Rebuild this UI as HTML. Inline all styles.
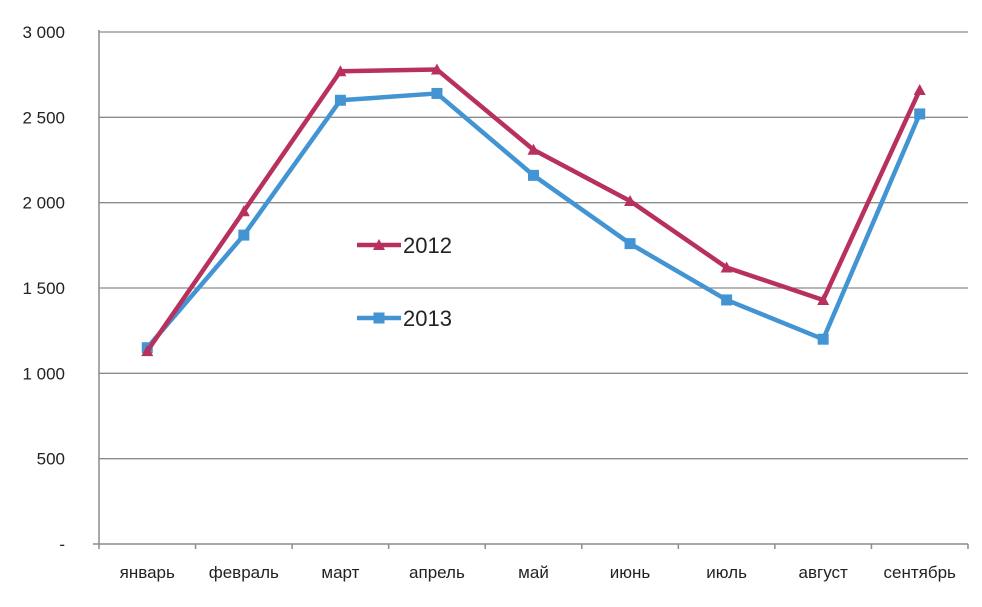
<!DOCTYPE html>
<html><head><meta charset="utf-8"><style>
body{margin:0;background:#fff;}
svg{display:block;font-family:"Liberation Sans",Arial,sans-serif;}
</style></head><body>
<svg id="chart" width="982" height="607" viewBox="0 0 982 607"></svg>
<script>
const categories=["январь","февраль","март","апрель","май","июнь","июль","август","сентябрь"];
const series2012=[1130,1950,2770,2780,2310,2010,1620,1430,2660];
const series2013=[1150,1810,2600,2640,2160,1760,1430,1200,2520];
const yTicks=[0,500,1000,1500,2000,2500,3000];
const yTickLabels=["-","500","1 000","1 500","2 000","2 500","3 000"];
const NS="http://www.w3.org/2000/svg";
const svg=document.getElementById('chart');
const X0=99,X1=968,Y0=544,Y1=32,YMAX=3000;
const band=(X1-X0)/categories.length;
const xPos=i=>X0+band*(i+0.5);
const yPos=v=>Y0-(v/YMAX)*(Y0-Y1);
function mk(tag,attrs,parent){const e=document.createElementNS(NS,tag);for(const k in attrs)e.setAttribute(k,attrs[k]);(parent||svg).appendChild(e);return e;}
const grid=mk('g',{});


yTicks.forEach((t,i)=>{
  if(t>0){const l=mk('line',{x1:X0,x2:X1,y1:yPos(t),y2:yPos(t),stroke:'#8c8c8c','stroke-width':1.3},grid);
  
  }
  const tx=mk('text',{x:65,y:yPos(t)+6,'text-anchor':'end','font-size':17,fill:'#222'});
  
  
  tx.textContent=yTickLabels[i];
});
const ax=mk('path',{d:`M${X0} ${Y1-2}V${Y0}M${X0-6} ${Y0}H${X1}`,stroke:'#8c8c8c','stroke-width':1.5,fill:'none'});


for(let i=0;i<=categories.length;i++){
  const t=mk('line',{x1:X0+band*i,x2:X0+band*i,y1:Y0,y2:Y0+5,stroke:'#8c8c8c','stroke-width':1.5});
  
  
}
categories.forEach((c,i)=>{
  const t=mk('text',{x:xPos(i),y:578,'text-anchor':'middle','font-size':17,fill:'#222'});
  
  
  t.textContent=c;
});
function tri(g,x,y,col){const p=mk('polygon',{points:`${x},${y-6} ${x-6},${y+5} ${x+6},${y+5}`,fill:col},g);return p;}
function sq(g,x,y,col){return mk('rect',{x:x-5.5,y:y-5.5,width:11,height:11,fill:col},g);}
function drawSeries(vals,col,marker,name){
  const g=mk('g',{});
  
  
  const pl=mk('polyline',{points:vals.map((v,i)=>xPos(i)+','+yPos(v)).join(' '),fill:'none',stroke:col,'stroke-width':4.5,'stroke-linejoin':'round'},g);
  
  
  vals.forEach((v,i)=>{const m=marker(g,xPos(i),yPos(v),col);
    
    });
}
drawSeries(series2013,'#4394d2',sq,'series-2013');
drawSeries(series2012,'#b8305c',tri,'series-2012');
function legend(y,col,marker,label,name){
  const g=mk('g',{});
  
  
  mk('line',{x1:357,x2:401,y1:y,y2:y,stroke:col,'stroke-width':4.5},g);
  marker(g,379,y,col);
  const t=mk('text',{x:403,y:y+8,'font-size':22,fill:'#222'},g);
  t.textContent=label;
}
legend(245,'#b8305c',tri,'2012','legend-entry-2012');
legend(318,'#4394d2',sq,'2013','legend-entry-2013');
</script>
</body></html>
